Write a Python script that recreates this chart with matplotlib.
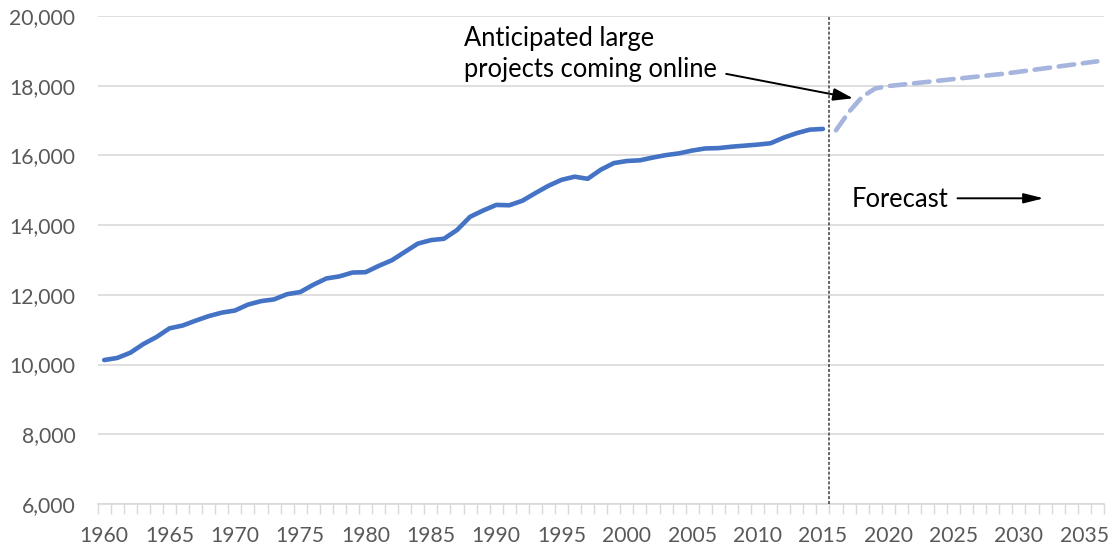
import matplotlib.pyplot as plt
from matplotlib.ticker import FuncFormatter, MultipleLocator

plt.rcParams['font.family'] = ['Lato', 'DejaVu Sans']

# historical series, 1960-2015
hist_years = list(range(1960, 2016))
hist_values = [10130, 10190, 10340, 10590, 10790, 11040, 11120, 11260, 11390, 11490,
               11550, 11720, 11820, 11870, 12020, 12080, 12290, 12470, 12530, 12640,
               12650, 12830, 12990, 13230, 13470, 13570, 13610, 13860, 14240, 14420,
               14580, 14570, 14700, 14920, 15130, 15300, 15390, 15330, 15590, 15780,
               15840, 15860, 15940, 16010, 16060, 16140, 16200, 16210, 16250, 16280,
               16310, 16350, 16510, 16640, 16740, 16760]

# forecast series, 2016-2036
fc_years = list(range(2016, 2037))
fc_values = [16720, 17250, 17680, 17920, 17990, 18030, 18070, 18110, 18150, 18190,
             18230, 18270, 18310, 18350, 18400, 18450, 18500, 18550, 18600, 18650, 18700]

tick_years = list(range(1960, 2036, 5))

fig = plt.figure(figsize=(11.15, 5.48), dpi=100)
ax = fig.add_axes([0.0876, 0.0803, 0.9024, 0.8905])
renderer = fig.canvas.get_renderer()


# pick a font size so a sample string is about as wide as in the reference
def fit_size(sample, target_px):
    t = fig.text(0, 0, sample, fontsize=10)
    w = t.get_window_extent(renderer).width
    t.remove()
    return 10 * target_px / w


tick_fs = fit_size('10,000', 66)
note_fs = fit_size('projects coming online', 254)

ax.plot(hist_years, hist_values, color='#4472C4', lw=3.3, solid_capstyle='round',
        solid_joinstyle='round', zorder=3)
ax.plot(fc_years, fc_values, color='#A6B5DE', lw=3.3, dashes=(3.4, 1.9),
        dash_capstyle='round', zorder=3)

ax.axvline(2015.5, color='#404040', lw=1.1, ls=(0, (2, 1.2)), zorder=4)

ax.set_xlim(1959.5, 2036.5)
ax.set_ylim(6000, 20000)

ax.yaxis.set_major_locator(MultipleLocator(2000))
ax.yaxis.set_major_formatter(FuncFormatter(lambda v, p: f'{int(v):,}'))
ax.grid(axis='y', color='#D9D9D9', lw=1.2, zorder=0)
ax.set_axisbelow(True)

ax.set_xticks(tick_years)
ax.set_xticklabels([str(y) for y in tick_years])
ax.set_xticks([y - 0.5 for y in range(1960, 2038)], minor=True)
ax.tick_params(axis='x', which='major', length=0, pad=16, labelsize=tick_fs, labelcolor='#595959')
ax.tick_params(axis='x', which='minor', length=7, width=1, color='#D9D9D9')
ax.tick_params(axis='y', length=0, pad=16, labelsize=tick_fs, labelcolor='#595959')

for s in ['top', 'right', 'left']:
    ax.spines[s].set_visible(False)
ax.spines['bottom'].set_color('#D9D9D9')
ax.spines['bottom'].set_linewidth(1.2)

ax.text(1987.5, 19148, 'Anticipated large', fontsize=note_fs, color='black',
        ha='left', va='baseline')
ax.text(1987.5, 18258, 'projects coming online', fontsize=note_fs, color='black',
        ha='left', va='baseline')
ax.annotate('', xy=(2017.3, 17640), xytext=(2007.6, 18340),
            arrowprops=dict(arrowstyle='-|>,head_length=1.2,head_width=0.38',
                            color='black', lw=1.4, shrinkA=0, shrinkB=0))

ax.text(2017.2, 14519, 'Forecast', fontsize=note_fs, color='black', ha='left', va='baseline')
ax.annotate('', xy=(2031.9, 14770), xytext=(2025.3, 14770),
            arrowprops=dict(arrowstyle='-|>,head_length=1.2,head_width=0.3',
                            color='black', lw=1.4, shrinkA=0, shrinkB=0))

fig.savefig('out.png', dpi=100)
